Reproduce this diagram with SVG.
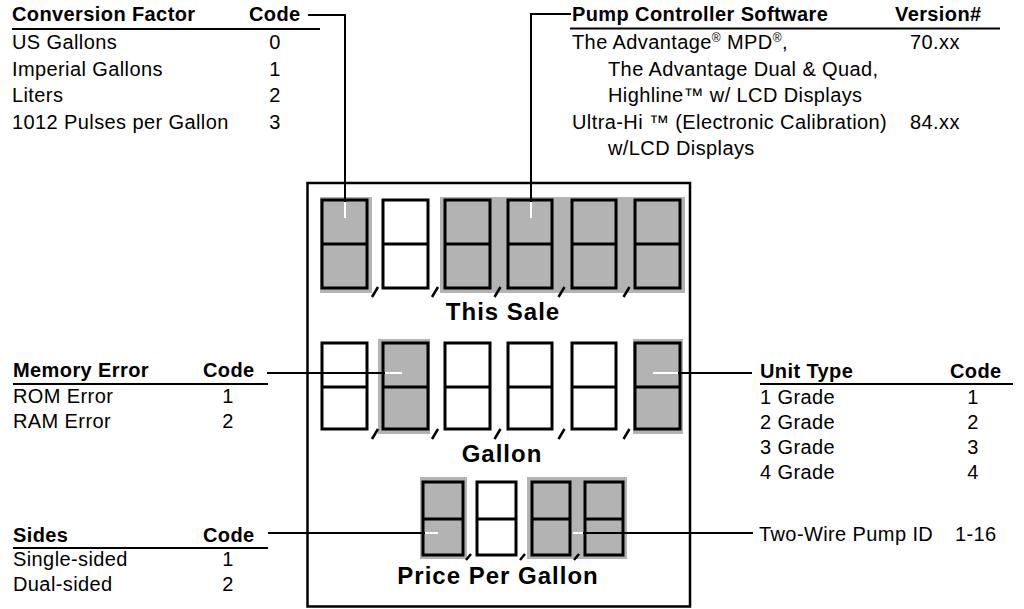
<svg xmlns="http://www.w3.org/2000/svg" width="1024" height="609" viewBox="0 0 1024 609">
<style>
.t{font-family:"Liberation Sans",Arial,sans-serif;font-size:20px;letter-spacing:0.4px;fill:#000}
.b{font-weight:bold}
.c{text-anchor:middle}
.lbl{font-family:"Liberation Sans",Arial,sans-serif;font-size:24px;font-weight:bold;letter-spacing:1px;text-anchor:middle;fill:#000}
.ul{stroke:#000;stroke-width:2}
.ld{stroke:#000;stroke-width:2;fill:none}
.tip{stroke:#fff;stroke-width:2}
.dg{fill:none;stroke:#000;stroke-width:3}
.hl{fill:#b3b3b3}
.sl{stroke:#000;stroke-width:2.5}
.frame{fill:#fff;stroke:#000;stroke-width:2.5}
</style>
<rect width="1024" height="609" fill="#fff"/>

<g id="conversion-table" class="t">
  <text class="b" x="12" y="21">Conversion Factor</text>
  <text class="b" x="249" y="21">Code</text>
  <line class="ul" x1="12" y1="29" x2="320" y2="29"/>
  <text x="12" y="49">US Gallons</text><text class="c" x="275" y="49">0</text>
  <text x="12" y="75.5">Imperial Gallons</text><text class="c" x="275" y="75.5">1</text>
  <text x="12" y="102">Liters</text><text class="c" x="275" y="102">2</text>
  <text x="12" y="128.5">1012 Pulses per Gallon</text><text class="c" x="275" y="128.5">3</text>
</g>

<g id="pump-table" class="t">
  <text class="b" x="572" y="21">Pump Controller Software</text>
  <text class="b" x="895" y="21">Version#</text>
  <line class="ul" x1="570" y1="28.5" x2="1000" y2="28.5"/>
  <text x="572" y="49">The Advantage<tspan font-size="12" dy="-7">®</tspan><tspan dy="7"> MPD</tspan><tspan font-size="12" dy="-7">®</tspan><tspan dy="7">,</tspan></text>
  <text x="910" y="49">70.xx</text>
  <text x="608" y="75.5">The Advantage Dual &amp; Quad,</text>
  <text x="608" y="102">Highline™ w/ LCD Displays</text>
  <text x="572" y="128.5">Ultra-Hi ™ (Electronic Calibration)</text>
  <text x="910" y="128.5">84.xx</text>
  <text x="608" y="155">w/LCD Displays</text>
</g>

<g id="memory-table" class="t">
  <text class="b" x="13" y="377">Memory Error</text>
  <text class="b" x="203" y="377">Code</text>
  <line class="ul" x1="13" y1="384" x2="268" y2="384"/>
  <text x="13" y="403">ROM Error</text><text class="c" x="228" y="403">1</text>
  <text x="13" y="428">RAM Error</text><text class="c" x="228" y="428">2</text>
</g>

<g id="unit-table" class="t">
  <text class="b" x="760" y="378">Unit Type</text>
  <text class="b" x="950" y="378">Code</text>
  <line class="ul" x1="760" y1="384" x2="1013" y2="384"/>
  <text x="760" y="404">1 Grade</text><text class="c" x="973" y="404">1</text>
  <text x="760" y="429">2 Grade</text><text class="c" x="973" y="429">2</text>
  <text x="760" y="454">3 Grade</text><text class="c" x="973" y="454">3</text>
  <text x="760" y="479">4 Grade</text><text class="c" x="973" y="479">4</text>
</g>

<g id="sides-table" class="t">
  <text class="b" x="13" y="541.5">Sides</text>
  <text class="b" x="203" y="541.5">Code</text>
  <line class="ul" x1="13" y1="548" x2="268" y2="548"/>
  <text x="13" y="566">Single-sided</text><text class="c" x="228" y="566">1</text>
  <text x="13" y="591">Dual-sided</text><text class="c" x="228" y="591">2</text>
</g>

<g id="twowire-label" class="t">
  <text x="759" y="541">Two-Wire Pump ID</text>
  <text x="955" y="541">1-16</text>
</g>

<g id="display">
  <rect class="frame" x="307.5" y="183" width="382.5" height="423.5"/>
  <g id="row-this-sale">
    <rect class="hl" x="320" y="197" width="52" height="96"/>
    <rect class="hl" x="440" y="197" width="245" height="96"/>
    <rect class="dg" x="322" y="200" width="45" height="88"/><line class="dg" x1="322" y1="244" x2="367" y2="244"/>
    <rect class="dg" x="383" y="200" width="45" height="88"/><line class="dg" x1="383" y1="244" x2="428" y2="244"/>
    <rect class="dg" x="445" y="200" width="45" height="88"/><line class="dg" x1="445" y1="244" x2="490" y2="244"/>
    <rect class="dg" x="508" y="200" width="44" height="88"/><line class="dg" x1="508" y1="244" x2="552" y2="244"/>
    <rect class="dg" x="572" y="200" width="44" height="88"/><line class="dg" x1="572" y1="244" x2="616" y2="244"/>
    <rect class="dg" x="635" y="200" width="45" height="88"/><line class="dg" x1="635" y1="244" x2="680" y2="244"/>
    <line class="sl" x1="372" y1="297" x2="378" y2="287"/>
    <line class="sl" x1="432" y1="297" x2="438" y2="287"/>
    <line class="sl" x1="494.5" y1="297" x2="500.5" y2="287"/>
    <line class="sl" x1="558.5" y1="297" x2="564.5" y2="287"/>
    <line class="sl" x1="623.5" y1="297" x2="629.5" y2="287"/>
    <text class="lbl" x="503" y="320">This Sale</text>
  </g>
  <g id="row-gallon">
    <rect class="hl" x="378" y="339" width="52" height="95"/>
    <rect class="hl" x="633" y="339" width="50" height="95"/>
    <rect class="dg" x="322" y="343" width="45" height="86"/><line class="dg" x1="322" y1="387" x2="367" y2="387"/>
    <rect class="dg" x="383" y="343" width="45" height="86"/><line class="dg" x1="383" y1="387" x2="428" y2="387"/>
    <rect class="dg" x="445" y="343" width="45" height="86"/><line class="dg" x1="445" y1="387" x2="490" y2="387"/>
    <rect class="dg" x="508" y="343" width="44" height="86"/><line class="dg" x1="508" y1="387" x2="552" y2="387"/>
    <rect class="dg" x="572" y="343" width="44" height="86"/><line class="dg" x1="572" y1="387" x2="616" y2="387"/>
    <rect class="dg" x="635" y="343" width="45" height="86"/><line class="dg" x1="635" y1="387" x2="680" y2="387"/>
    <line class="sl" x1="372" y1="439" x2="378" y2="429"/>
    <line class="sl" x1="432" y1="439" x2="438" y2="429"/>
    <line class="sl" x1="494.5" y1="439" x2="500.5" y2="429"/>
    <line class="sl" x1="558.5" y1="439" x2="564.5" y2="429"/>
    <line class="sl" x1="623.5" y1="439" x2="629.5" y2="429"/>
    <text class="lbl" x="502" y="462">Gallon</text>
  </g>
  <g id="row-price">
    <rect class="hl" x="420" y="477" width="47" height="82"/>
    <rect class="hl" x="527" y="477" width="100" height="82"/>
    <rect class="dg" x="423" y="482" width="40" height="73"/><line class="dg" x1="423" y1="519" x2="463" y2="519"/>
    <rect class="dg" x="477" y="482" width="39" height="73"/><line class="dg" x1="477" y1="519" x2="516" y2="519"/>
    <rect class="dg" x="532" y="482" width="38" height="73"/><line class="dg" x1="532" y1="519" x2="570" y2="519"/>
    <rect class="dg" x="585" y="482" width="38" height="73"/><line class="dg" x1="585" y1="519" x2="623" y2="519"/>
    <line class="sl" x1="466" y1="560" x2="471" y2="554"/>
    <line class="sl" x1="520" y1="560" x2="525" y2="554"/>
    <line class="sl" x1="574" y1="560" x2="579" y2="554"/>
    <text class="lbl" x="498" y="584">Price Per Gallon</text>
  </g>
</g>

<g id="connectors">
  <polyline class="ld" points="308,15 345,15 345,218"/>
  <line class="tip" x1="345" y1="202" x2="345" y2="218"/>
  <polyline class="ld" points="571,14 531,14 531,218"/>
  <line class="tip" x1="531" y1="202" x2="531" y2="218"/>
  <line class="ld" x1="267" y1="373" x2="402" y2="373"/>
  <line class="tip" x1="385" y1="373" x2="402" y2="373"/>
  <line class="ld" x1="752" y1="373" x2="653" y2="373"/>
  <line class="tip" x1="653" y1="373" x2="678" y2="373"/>
  <line class="ld" x1="268" y1="533" x2="438" y2="533"/>
  <line class="tip" x1="425" y1="533" x2="438" y2="533"/>
  <line class="ld" x1="753" y1="533" x2="573" y2="533"/>
  <line class="tip" x1="573" y1="533" x2="583" y2="533"/>
</g>
</svg>
